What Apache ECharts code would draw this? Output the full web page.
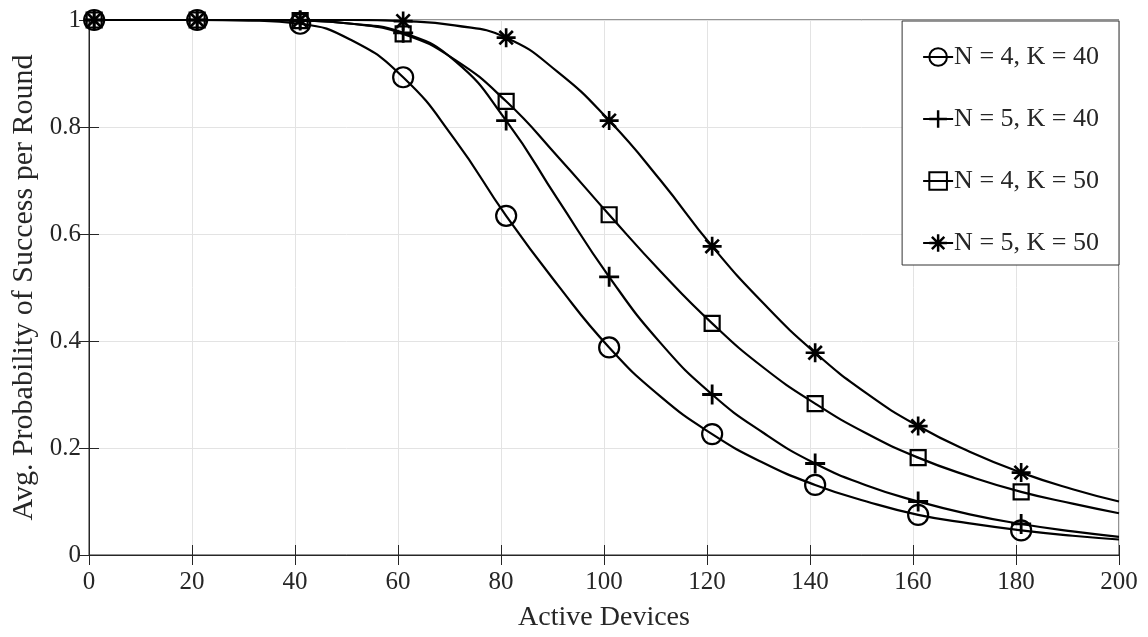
<!DOCTYPE html>
<html>
<head>
<meta charset="utf-8">
<script src="https://cdn.jsdelivr.net/npm/echarts@6/dist/echarts.min.js"></script>
<style>
  html, body { margin: 0; padding: 0; background: #fff; }
  #container { width: 1148px; height: 637px; }
</style>
</head>
<body>
<div id="container"></div>
<script>
// x positions where the curves were read (markers sit at 1, 21, 41 ... 181)
var devices = [1, 11, 21, 31, 41, 51, 61, 71, 81, 91, 101, 111, 121, 131, 141, 151, 161, 171, 181, 191, 200];
var markerDevices = [1, 21, 41, 61, 81, 101, 121, 141, 161, 181];

var seriesNames = ['N = 4, K = 40', 'N = 5, K = 40', 'N = 4, K = 50', 'N = 5, K = 50'];

var n4k40 = [1, 1, 1, 0.999, 0.993, 0.962, 0.893, 0.777, 0.634, 0.505, 0.388, 0.296, 0.226, 0.172, 0.131, 0.100, 0.075, 0.059, 0.046, 0.036, 0.029];
var n5k40 = [1, 1, 1, 1, 0.999, 0.993, 0.976, 0.924, 0.812, 0.665, 0.520, 0.396, 0.300, 0.228, 0.171, 0.130, 0.100, 0.076, 0.058, 0.044, 0.034];
var n4k50 = [1, 1, 1, 1, 0.999, 0.993, 0.974, 0.926, 0.848, 0.745, 0.636, 0.530, 0.433, 0.350, 0.283, 0.227, 0.182, 0.147, 0.118, 0.096, 0.078];
var n5k50 = [1, 1, 1, 1, 1, 1, 0.998, 0.990, 0.967, 0.903, 0.812, 0.700, 0.577, 0.470, 0.378, 0.302, 0.241, 0.193, 0.154, 0.123, 0.100];

var xTicks = [0, 20, 40, 60, 80, 100, 120, 140, 160, 180, 200];
var yTicks = [0, 0.2, 0.4, 0.6, 0.8, 1];

var FONT = '"Liberation Serif", "DejaVu Serif", serif';
var TXT = '#262626';

// marker shapes (matlab style)
var plusPath = 'path://M-1.4,-10L1.4,-10L1.4,10L-1.4,10ZM-10,-1.4L10,-1.4L10,1.4L-10,1.4Z';
function starPath() {
    var s = 'path://';
    [0, 45, 90, 135].forEach(function (deg) {
        var a = deg * Math.PI / 180, c = Math.cos(a), d = Math.sin(a);
        var pts = [[-1.4, -10], [1.4, -10], [1.4, 10], [-1.4, 10]].map(function (p) {
            return (p[0] * c - p[1] * d).toFixed(3) + ',' + (p[0] * d + p[1] * c).toFixed(3);
        });
        s += 'M' + pts[0] + 'L' + pts[1] + 'L' + pts[2] + 'L' + pts[3] + 'Z';
    });
    return s;
}

var styles = [
    {symbol: 'circle', size: 20, fill: 'rgba(0,0,0,0)', border: 2.2},
    {symbol: plusPath, size: 20, fill: '#000', border: 0},
    {symbol: 'rect', size: 15, fill: 'rgba(0,0,0,0)', border: 2.2},
    {symbol: starPath(), size: 19, fill: '#000', border: 0}
];

function buildData(values) {
    return devices.map(function (x, i) {
        var item = {value: [x, values[i]]};
        if (markerDevices.indexOf(x) < 0) item.symbol = 'none';
        return item;
    });
}

var allValues = [n4k40, n5k40, n4k50, n5k50];
var series = allValues.map(function (vals, k) {
    var st = styles[k];
    return {
        name: seriesNames[k],
        type: 'line',
        data: buildData(vals),
        smooth: 0.5,
        symbol: st.symbol,
        symbolSize: st.size,
        showAllSymbol: true,
        lineStyle: {color: '#000', width: 2.2},
        itemStyle: {color: st.fill, borderColor: '#000', borderWidth: st.border},
        emphasis: {disabled: true},
        z: 3
    };
});

var myChart = echarts.init(document.getElementById('container'), null, {renderer: 'canvas'});

var option = {
    animation: false,
    backgroundColor: '#fff',
    grid: {left: 89, right: 29, top: 20, bottom: 79, show: true, borderColor: TXT, borderWidth: 1, backgroundColor: 'transparent'},
    legend: {
        data: seriesNames,
        orient: 'vertical',
        right: 29,
        top: 21,
        backgroundColor: '#fff',
        borderColor: '#333',
        borderWidth: 1,
        padding: [23, 20, 9, 20],
        itemGap: 36,
        itemWidth: 30,
        itemHeight: 22,
        textStyle: {fontFamily: FONT, fontSize: 26, color: TXT, padding: [0, 0, 0, -4]}
    },
    xAxis: [{
        type: 'value', min: 0, max: 200, interval: 20,
        name: 'Active Devices', nameLocation: 'middle', nameGap: 49,
        nameTextStyle: {fontFamily: FONT, fontSize: 28, color: TXT},
        axisLine: {show: true, lineStyle: {color: TXT, width: 1}},
        axisTick: {show: true, inside: true, length: 10, lineStyle: {color: TXT}},
        axisLabel: {fontFamily: FONT, fontSize: 25, color: TXT, margin: 15,
            formatter: function (v) { return xTicks.indexOf(v) >= 0 ? String(v) : ''; }},
        splitLine: {show: true, lineStyle: {color: '#e3e3e3', width: 1}}
    }, {
        type: 'value', min: 0, max: 200, interval: 20, position: 'top',
        axisLine: {show: true, lineStyle: {color: TXT}},
        axisTick: {show: true, inside: true, length: 10, lineStyle: {color: TXT}},
        axisLabel: {show: false}, splitLine: {show: false}
    }],
    yAxis: [{
        type: 'value', min: 0, max: 1, interval: 0.2,
        name: 'Avg. Probability of Success per Round', nameLocation: 'middle', nameGap: 46,
        nameTextStyle: {fontFamily: FONT, fontSize: 30, color: TXT},
        axisLine: {show: true, lineStyle: {color: TXT, width: 1}},
        axisTick: {show: true, inside: true, length: 10, lineStyle: {color: TXT}},
        axisLabel: {fontFamily: FONT, fontSize: 25, color: TXT, margin: 8,
            formatter: function (v) {
                var r = Math.round(v * 10) / 10;
                return yTicks.indexOf(r) >= 0 ? String(r) : '';
            }},
        splitLine: {show: true, lineStyle: {color: '#e3e3e3', width: 1}}
    }, {
        type: 'value', min: 0, max: 1, interval: 0.2, position: 'right',
        axisLine: {show: true, lineStyle: {color: TXT}},
        axisTick: {show: true, inside: true, length: 10, lineStyle: {color: TXT}},
        axisLabel: {show: false}, splitLine: {show: false}
    }],
    series: series
};
myChart.setOption(option);
</script>
</body>
</html>
